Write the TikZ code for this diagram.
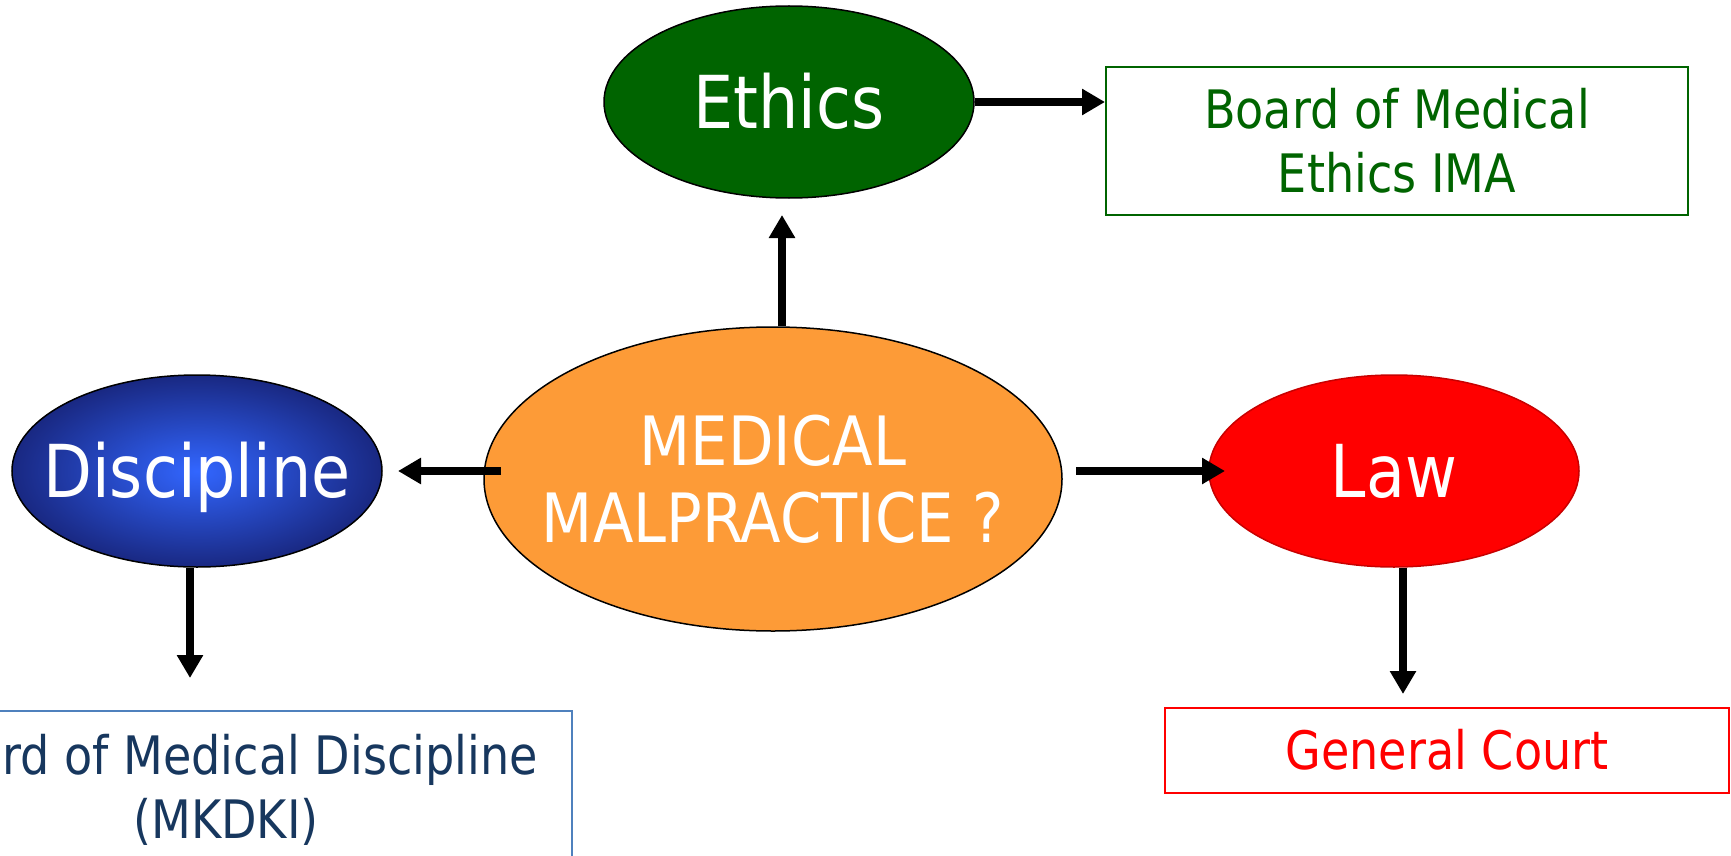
\documentclass[tikz,border=0pt]{standalone}
\usepackage{fontspec}
\setmainfont{DejaVu Sans}[FakeStretch=0.87]
\usepackage{tikz}
\usetikzlibrary{shapes.geometric}
\usetikzlibrary{arrows.meta}

\definecolor{ethgreen}{RGB}{0,100,0}
\definecolor{malorange}{RGB}{253,155,55}
\definecolor{discblue}{RGB}{50,102,255}
\definecolor{discnavy}{RGB}{25,40,130}
\definecolor{boxblue}{RGB}{79,129,189}
\definecolor{textnavy}{RGB}{23,55,94}
\definecolor{lawborder}{RGB}{200,0,0}

\tikzset{
    oval/.style={ellipse, line width=1.5pt, inner xsep=-40pt, inner ysep=0pt, text=white},
    bigoval/.style={oval, minimum width=370pt, minimum height=192pt,
        font=\fontsize{73}{80}\selectfont, text height=53pt, text depth=0pt},
    board/.style={rectangle, line width=2pt, inner sep=0pt, align=center,
        font=\fontsize{53}{64}\selectfont},
    arrow/.style={line width=7.5pt, -{Triangle[length=23pt,width=25pt]}}
}

\begin{document}
\begin{tikzpicture}[x=1pt,y=-1pt]
        \useasboundingbox (0,0) rectangle (1731,856);
        \clip (0,0) rectangle (1731,856);

        \node[oval, draw=black, fill=malorange, minimum width=578pt, minimum height=304pt,
            align=center, font=\fontsize{68}{77}\selectfont] (mal) at (773,479) {MEDICAL\\MALPRACTICE ?};
        \node[bigoval, draw=black, fill=ethgreen] (eth) at (789,102) {Ethics};
        \node[bigoval, draw=black, inner color=discblue, outer color=discnavy] (disc) at (197,471) {Discipline};
        \node[bigoval, draw=lawborder, fill=red] (law) at (1394,471) {Law};

        \node[board, draw=ethgreen, text=ethgreen, minimum width=582pt, minimum height=148pt]
            (ethbox) at (1397,141) {Board of Medical\\Ethics IMA};
        \node[board, draw=boxblue, text=textnavy, minimum width=692pt, minimum height=158pt]
            (discbox) at (226,790) {Board of Medical Discipline\\(MKDKI)};
        \node[board, draw=red, text=red, minimum width=564pt, minimum height=85pt]
            (lawbox) at (1447,750) {General Court};

        % free ends of the arrows
        \coordinate (ethtip) at (782,215);
        \coordinate (discfrom) at (501,471);
        \coordinate (disctip) at (398,471);
        \coordinate (lawfrom) at (1076,471);
        \coordinate (lawtip) at (1225,471);
        \coordinate (discdown) at (190,678);
        \coordinate (lawdown) at (1403,694);

        \draw[arrow] (ethtip |- mal.north) -- (ethtip);
        \draw[arrow] (eth.east) -- (eth.east -| ethbox.west);
        \draw[arrow] (discfrom) -- (disctip);
        \draw[arrow] (lawfrom) -- (lawtip);
        \draw[arrow] (discdown |- disc.south) -- (discdown);
        \draw[arrow] (lawdown |- law.south) -- (lawdown);
    \end{tikzpicture}
\end{document}
